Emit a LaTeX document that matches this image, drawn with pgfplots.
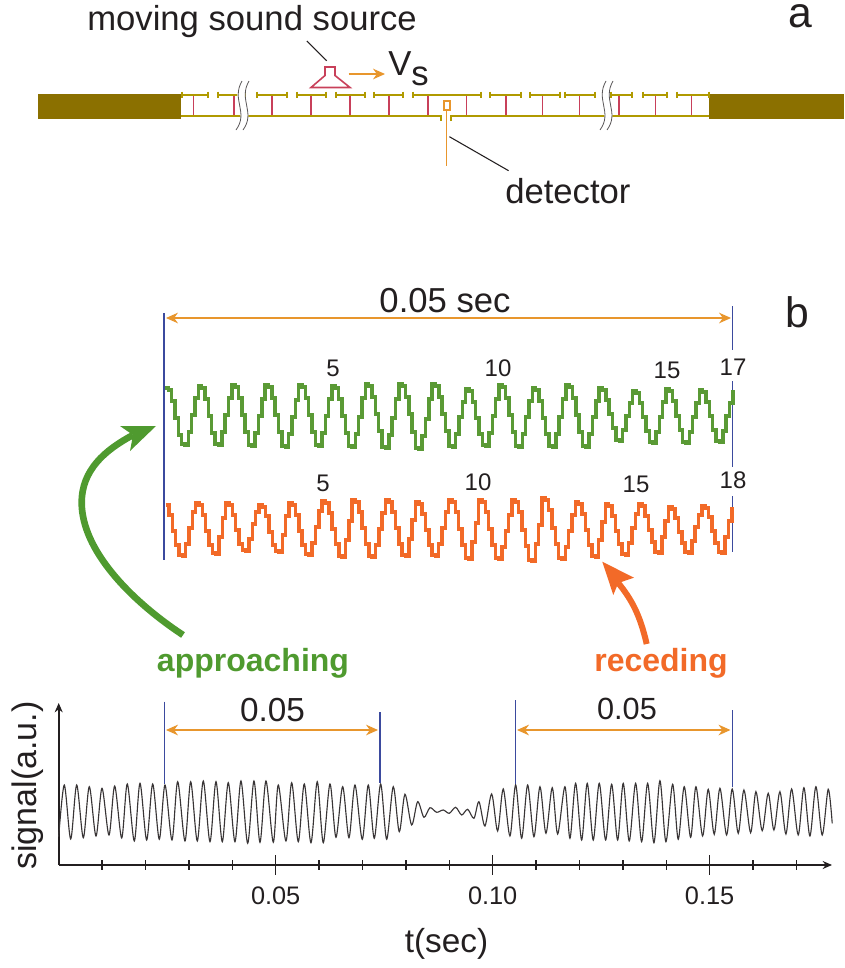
\documentclass[border=0pt]{standalone}
\usepackage{fontspec}
\setmainfont{Liberation Sans}
\usepackage{pgfplots}
\usepackage{pgfplotstable}
\pgfplotsset{compat=1.18}
\usetikzlibrary{arrows.meta}
\definecolor{txt}{HTML}{231F20}
\definecolor{gblock}{HTML}{8B7000}
\definecolor{gold}{HTML}{B09A00}
\definecolor{strut}{HTML}{C8405A}
\definecolor{ornA}{HTML}{E8962D}
\definecolor{grn}{HTML}{5A9A35}
\definecolor{grnA}{HTML}{4F9A2F}
\definecolor{orn}{HTML}{F26A28}
\definecolor{blu}{HTML}{3B4A9E}
\newcommand{\fA}{\fontsize{26}{30}\selectfont}
\newcommand{\fB}{\fontsize{18}{22}\selectfont}
\newcommand{\fC}{\fontsize{24}{28}\selectfont\bfseries}
\newcommand{\fE}{\fontsize{32}{36}\selectfont}
\pgfplotstableread[row sep=crcr,header=false]{
388\\390\\401\\418\\435\\444\\445\\432\\415\\398\\386\\
388\\399\\416\\433\\444\\445\\432\\415\\398\\385\\
387\\398\\415\\432\\445\\446\\433\\416\\399\\385\\
387\\398\\415\\432\\446\\447\\434\\417\\400\\385\\
387\\398\\415\\432\\445\\446\\433\\416\\399\\386\\
388\\399\\416\\433\\446\\447\\434\\417\\398\\384\\
386\\397\\414\\431\\447\\448\\435\\418\\399\\384\\
386\\397\\414\\432\\448\\449\\436\\419\\399\\384\\
386\\397\\414\\431\\446\\447\\434\\417\\402\\389\\
391\\402\\418\\434\\445\\446\\433\\416\\399\\385\\
387\\398\\415\\432\\446\\447\\434\\417\\401\\388\\
390\\401\\418\\434\\446\\447\\434\\417\\399\\385\\
387\\398\\415\\432\\446\\447\\434\\417\\401\\388\\
390\\400\\414\\428\\440\\441\\430\\416\\403\\391\\
393\\403\\417\\431\\442\\443\\432\\417\\402\\389\\
391\\401\\416\\430\\442\\443\\432\\417\\403\\390\\
392\\402\\416\\430\\441\\442\\431\\416\\403\\390\\
}\greendata
\pgfplotstableread[row sep=crcr,header=false]{
505\\515\\531\\545\\555\\556\\544\\528\\512\\503\\
505\\515\\531\\545\\553\\554\\537\\518\\503\\
505\\515\\530\\544\\550\\551\\539\\524\\512\\505\\
507\\516\\532\\545\\551\\552\\535\\516\\503\\
505\\515\\531\\545\\554\\555\\543\\527\\511\\501\\
503\\513\\529\\544\\556\\557\\540\\521\\500\\
502\\512\\528\\544\\556\\557\\545\\529\\513\\500\\
502\\512\\528\\544\\555\\556\\539\\520\\502\\
504\\514\\530\\545\\555\\556\\544\\528\\512\\500\\
502\\512\\529\\545\\558\\559\\542\\523\\500\\
502\\512\\529\\545\\558\\559\\547\\531\\515\\500\\
502\\512\\530\\546\\560\\561\\544\\525\\498\\
500\\510\\528\\544\\558\\559\\547\\531\\515\\502\\
504\\514\\530\\545\\556\\557\\540\\522\\504\\
506\\516\\531\\544\\554\\555\\543\\528\\514\\504\\
506\\516\\530\\542\\552\\553\\537\\521\\507\\
509\\518\\532\\543\\552\\553\\541\\527\\515\\506\\
508\\517\\531\\543\\552\\553\\537\\521\\507\\
}\orangedata
\pgfplotstableread{
px s
58.7 28.3
64.3 80
70.7 26
76.7 80
83.3 27.3
89.3 78.3
96 29
102 76.7
109 30
114.7 79
121.7 27
127.3 81
134.3 24
140 81.7
146.7 25
152.7 81
159.3 25.7
165 80
172 25
177.7 83.3
185 24
190.7 83.3
197.3 24
203.3 84
210 23.3
216 83.3
222.3 23.3
228.3 82.3
235 23.3
241 84
247.7 21.7
254 84
260 22.7
266 84
273.3 22.7
278.3 80
286 24
291.7 82.3
298.3 23.3
304.3 81
311 22.3
317.3 83.3
323.3 22.3
330 81
336 27.7
342.7 78.3
349 27.3
355 80
362.3 25.7
368.3 80
374.3 26.7
380.7 81
386.7 25.7
393.3 78.3
399.3 33.3
405 70.7
411.7 40
417.7 63.3
424 47.7
430 57.3
436.7 52.7
443.3 55
449.3 51.7
455.7 57.7
461.7 50
467.7 55.7
474 46.7
479 63.3
485 39
491.7 71
497.7 34
503.3 76
510 29
515.7 80
521.7 26.7
527.7 80
534 28.3
540 78.3
546 31.7
552.3 77.3
557.7 31
565 78.3
570 26.7
575.7 81.7
581.7 25
587.3 81.7
593.3 25
599.3 81.7
605.7 25
611.7 80.7
617.7 25
623.3 81.7
629.3 24
635.7 81.7
641.7 23.3
647.7 81.7
654 22.3
660 84.3
666 23.3
672.7 80.7
678.3 25.7
684.3 78.3
690.7 27.7
696 78.3
702.7 29
708.3 75.7
714.3 30.7
720 76.7
726.7 30
732.3 76
738.3 31.7
744 75
750.7 32.3
756 73.3
762.3 34.3
768.3 71.7
774 35
780 73.3
786 31
791.7 76
798.3 30
804 77.3
810 29
816 78.3
822.3 30
828.3 75.7
832.3 41.7
}\signaldata
\begin{document}
\begin{tikzpicture}[x=1pt,y=1pt]
\path[use as bounding box] (0,0) rectangle (633,726);
% pixel overlay
\begin{axis}[at={(0,0)},anchor=south west,scale only axis,width=633pt,height=726pt,
  xmin=0,xmax=844,ymin=0,ymax=968,y dir=reverse,hide axis,clip=false,
  every axis plot/.append style={mark=none,line join=miter,line cap=butt}]
% panel a blocks
\addplot[fill=gblock,draw=none] coordinates {(38,94)(181,94)(181,118.7)(38,118.7)} --cycle;
\addplot[fill=gblock,draw=none] coordinates {(709,94)(844,94)(844,118.7)(709,118.7)} --cycle;
% struts
\foreach \xx in {193.8,234,272,311,350,389,428,466.6,506,542.5,579.6,619,655.5,691.6}{
  \edef\tmp{\noexpand\draw[strut,line width=0.9pt] (axis cs:\xx,96)--(axis cs:\xx,116);}\tmp}
% bottom rail
\addplot[gold,line width=1.7pt] coordinates {(181,116.3)(441,116.3)(441,121)};
\addplot[gold,line width=1.7pt] coordinates {(451,121)(451,116.3)(709,116.3)};
% top rail segments
\foreach \a/\b in {182/208,218/245,257/287,297/326,336/365,374/403,413/480.6,490/521,530/560,565/595,611/632,643/667,677/709}{
  \edef\tmp{\noexpand\draw[gold,line width=1.5pt] (axis cs:\a,95)--(axis cs:\b,95);
  \noexpand\draw[gold,line width=1.5pt] (axis cs:\a,91.7)--(axis cs:\a,97.5);
  \noexpand\draw[gold,line width=1.5pt] (axis cs:\b,91.7)--(axis cs:\b,97.5);}\tmp}
% break marks
\draw[white,line width=6pt] (axis cs:245,81) .. controls (234,100) and (252,112) .. (240,130);
\draw[txt!75,line width=0.6pt] (axis cs:242,81) .. controls (231,100) and (249,112) .. (236,130);
\draw[txt!75,line width=0.6pt] (axis cs:249,81) .. controls (238,100) and (256,112) .. (243,130);
\draw[white,line width=6pt] (axis cs:609,81) .. controls (598,100) and (616,112) .. (604,130);
\draw[txt!75,line width=0.6pt] (axis cs:606,81) .. controls (595,100) and (613,112) .. (600,130);
\draw[txt!75,line width=0.6pt] (axis cs:613,81) .. controls (602,100) and (620,112) .. (607,130);
% speaker
\addplot[strut,line width=1.2pt] coordinates {(325,67)(335,67)(335,75.5)(350,87.5)(311,87.5)(325,75.5)} --cycle;
\draw[txt,line width=0.8pt] (axis cs:306.8,41)--(axis cs:326.7,60.7);
\draw[ornA,line width=1.1pt,-{Stealth[length=9pt,width=8pt]}] (axis cs:348.5,74)--(axis cs:385,74);
% detector
\addplot[ornA,line width=1.2pt] coordinates {(446.5,110)(446.5,166)};
\addplot[ornA,line width=1.5pt] coordinates {(444,101)(449.5,101)(449.5,109.5)(444,109.5)} --cycle;
\draw[txt,line width=0.8pt] (axis cs:449.4,136.7)--(axis cs:508.6,170.7);
% text panel a
\node[anchor=base west,inner sep=0,text=txt,font=\fA] at (axis cs:87,30.5) {moving sound source};
\node[anchor=base west,inner sep=0,text=txt,font=\fA] at (axis cs:388,75) {V};
\node[anchor=base west,inner sep=0,text=txt,font=\fA] at (axis cs:411,85) {s};
\node[anchor=base west,inner sep=0,text=txt,font=\fA] at (axis cs:505,203) {detector};
\node[anchor=base west,inner sep=0,text=txt,font=\fE] at (axis cs:788,27) {a};
\node[anchor=base west,inner sep=0,text=txt,font=\fE] at (axis cs:785,327) {b};
% blue lines panel b
\addplot[blu,line width=1pt] coordinates {(164,313)(164,560)};
\addplot[blu,line width=1pt] coordinates {(732.5,306)(732.5,350)};
\addplot[blu,line width=1pt] coordinates {(732.5,381)(732.5,467)};
\addplot[blu,line width=1pt] coordinates {(732.5,496)(732.5,552)};
\draw[ornA,line width=1pt,{Stealth[length=9pt,width=8pt]}-{Stealth[length=9pt,width=8pt]}] (axis cs:166,318)--(axis cs:731,318);
\node[anchor=base,inner sep=0,text=txt,font=\fA] at (axis cs:445,312) {0.05 sec};
% traces
\addplot[grn,line width=2.6pt,const plot,x filter/.expression={165+3.34*\coordindex}] table[x expr=\coordindex,y index=0] {\greendata};
\addplot[orn,line width=2.6pt,const plot,x filter/.expression={165.7+3.33*\coordindex}] table[x expr=\coordindex,y index=0] {\orangedata};
% count labels
\foreach \xx/\yy/\tt in {333/376/5,498/376/10,667/378/15,733/375/17,323/491/5,478/490/10,636/492/15,733/488/18}{
  \edef\tmp{\noexpand\node[anchor=base,inner sep=0,text=txt,font=\noexpand\fB] at (axis cs:\xx,\yy) {\tt};}\tmp}
% big arrows
\draw[grnA,line width=5pt] (axis cs:183,635) .. controls (130,600) and (82,550) .. (81.7,503) .. controls (81.5,470) and (105,450) .. (133,435);
\fill[grnA] (axis cs:156,426)--(axis cs:120,426)--(axis cs:133,435)--(axis cs:130,451)--cycle;
\draw[orn,line width=4.5pt] (axis cs:646.7,644) .. controls (640,615) and (632,600) .. (618.3,583);
\fill[orn] (axis cs:602.3,561.7)--(axis cs:634,577.7)--(axis cs:618.3,583)--(axis cs:613.3,595)--cycle;
\node[anchor=base,inner sep=0,text=grnA,font=\fC] at (axis cs:253,671) {approaching};
\node[anchor=base,inner sep=0,text=orn,font=\fC] at (axis cs:661,671.5) {receding};
% bottom annotations
\addplot[blu,line width=1pt] coordinates {(164.3,701.5)(164.3,784)};
\addplot[blu,line width=1pt] coordinates {(380,712)(380,783)};
\addplot[blu,line width=1pt] coordinates {(515.5,700)(515.5,785)};
\addplot[blu,line width=1pt] coordinates {(732.5,710)(732.5,787)};
\draw[ornA,line width=1pt,{Stealth[length=9pt,width=8pt]}-{Stealth[length=9pt,width=8pt]}] (axis cs:166,730)--(axis cs:378,730);
\draw[ornA,line width=1pt,{Stealth[length=9pt,width=8pt]}-{Stealth[length=9pt,width=8pt]}] (axis cs:517,730)--(axis cs:730.5,730);
\node[anchor=base,inner sep=0,text=txt,font=\fontsize{25}{28}\selectfont] at (axis cs:272.5,721) {0.05};
\node[anchor=base,inner sep=0,text=txt,font=\fontsize{23}{26}\selectfont] at (axis cs:627,719) {0.05};
\end{axis}
% signal axis
\begin{axis}[at={(44.025pt,77.25pt)},anchor=south west,scale only axis,width=579.975pt,height=121.5pt,
  xmin=0,xmax=0.1782,ymin=0,ymax=162,clip=false,
  axis x line=bottom,axis y line=left,
  every outer x axis line/.append style={line width=1.3pt,-{Stealth[length=7pt,width=6pt]},color=txt},
  every outer y axis line/.append style={line width=1.3pt,-{Stealth[length=7pt,width=6pt]},color=txt},
  xtick={0.05,0.10,0.15},xticklabels={0.05,0.10,0.15},
  minor xtick={0.01,0.02,0.03,0.04,0.06,0.07,0.08,0.09,0.11,0.12,0.13,0.14,0.16,0.17},
  ytick=\empty,
  tick align=center,
  major tick length=14.5pt,minor tick length=7pt,
  every tick/.append style={line width=1pt,color=txt},
  xticklabel style={font=\fontsize{19}{22}\selectfont,text=txt,anchor=base,yshift=-22pt},
  xlabel={t(sec)},ylabel={signal(a.u.)},
  xlabel style={font=\fontsize{25}{28}\selectfont,text=txt,at={(axis description cs:0.5015,0)},anchor=base,yshift=-65.8pt},
  ylabel style={font=\fontsize{25.5}{28}\selectfont,text=txt,at={(axis description cs:0,0.49)},anchor=base,yshift=17pt,rotate=0}]
\addplot[color=txt!90,line width=0.85pt,smooth,mark=none,x filter/.expression={(x-58.7)/4340}] table[x=px,y=s] {\signaldata};
\end{axis}
\end{tikzpicture}
\end{document}
